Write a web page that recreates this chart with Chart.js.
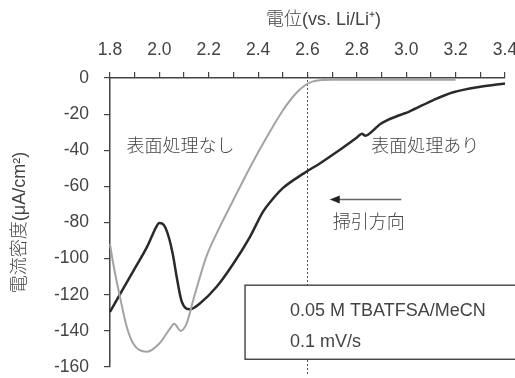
<!DOCTYPE html>
<html lang="ja">
<head>
<meta charset="utf-8">
<title>電流密度 vs 電位</title>
<script src="https://cdn.jsdelivr.net/npm/chart.js@4/dist/chart.umd.min.js"></script>
<style>
  html, body { margin: 0; padding: 0; background: #fff; }
  #wrap { width: 515px; height: 378px; position: relative; }
</style>
</head>
<body>
<div id="wrap"><canvas id="cv"></canvas></div>
<script>
// Potential (V vs. Li/Li+) and current density (µA/cm²) for each electrode
const untreatedPotential = [1.80, 1.813, 1.84, 1.868, 1.894, 1.92, 1.95, 2.00, 2.043, 2.06, 2.086, 2.11, 2.137, 2.19, 2.232, 2.298, 2.367, 2.434, 2.50, 2.55, 2.59, 2.62, 2.65, 2.70, 2.80, 3.00, 3.20];
const untreatedCurrent   = [-92, -102.7, -121, -137.8, -147, -150.7, -151.5, -147, -138.7, -136, -140, -136, -123, -99, -86, -68, -49.5, -33, -18, -9, -4, -2, -1.2, -1, -1, -1, -1];

const treatedPotential = [1.80, 1.85, 1.90, 1.95, 1.97, 1.985, 2.00, 2.012, 2.025, 2.04, 2.055, 2.07, 2.09, 2.124, 2.164, 2.232, 2.30, 2.367, 2.42, 2.45, 2.50, 2.585, 2.65, 2.73, 2.80, 2.82, 2.835, 2.86, 2.895, 2.975, 3.01, 3.11, 3.19, 3.30, 3.40];
const treatedCurrent   = [-129.5, -117.5, -105.5, -93.5, -87.5, -83, -80.3, -80.6, -83, -89, -98, -110, -123.5, -128, -124.8, -115.6, -102.7, -87.9, -74, -68.5, -61, -52.8, -47.3, -39.9, -33, -30.8, -32, -29.8, -25.5, -20.5, -18.7, -12.2, -7.9, -4.8, -3];

const xTicks = { min: 1.8, max: 3.4, step: 0.1 };
const yTicks = { min: -160, max: 0, step: 20 };

const FONT = "'Liberation Sans', 'Noto Sans CJK JP', sans-serif";
const TEXT = '#444';

function toPoints(xs, ys) { return xs.map((x, i) => ({ x, y: ys[i] })); }

// Labels, sweep arrow, reference line and condition box
const overlay = {
  id: 'overlay',
  beforeDatasetsDraw(chart) {
    const { ctx, scales: { x, y } } = chart;
    const px = x.getPixelForValue(2.6);
    ctx.save();
    ctx.strokeStyle = '#555';
    ctx.lineWidth = 1;
    ctx.setLineDash([2, 2]);
    ctx.beginPath();
    ctx.moveTo(px, y.getPixelForValue(0) + 2);
    ctx.lineTo(px, chart.height - 3);
    ctx.stroke();
    ctx.restore();
  },
  afterDatasetsDraw(chart) {
    const { ctx, scales: { x, y } } = chart;
    ctx.save();

    // condition box
    const bl = x.getPixelForValue(2.347), bt = y.getPixelForValue(-114.7), bb = y.getPixelForValue(-155.7);
    ctx.fillStyle = '#fff';
    ctx.fillRect(bl, bt, chart.width - bl + 5, bb - bt);
    ctx.strokeStyle = '#333';
    ctx.lineWidth = 1.3;
    ctx.strokeRect(bl, bt, chart.width - bl + 5, bb - bt);

    ctx.fillStyle = TEXT;
    ctx.textBaseline = 'middle';
    ctx.textAlign = 'left';
    ctx.font = `300 18px ${FONT}`;
    ctx.fillText('0.05 M TBATFSA/MeCN', bl + 45, bt + 26);
    ctx.fillText('0.1 mV/s', bl + 45, bt + 57);

    // curve labels
    ctx.font = `300 18px ${FONT}`;
    ctx.fillText('表面処理なし', x.getPixelForValue(1.867), y.getPixelForValue(-38.2));
    ctx.fillText('表面処理あり', x.getPixelForValue(2.858), y.getPixelForValue(-38));
    ctx.fillText('掃引方向', x.getPixelForValue(2.702), y.getPixelForValue(-80.3));

    // sweep direction arrow
    const ay = y.getPixelForValue(-67.2);
    const ax0 = x.getPixelForValue(2.98), ax1 = x.getPixelForValue(2.69);
    ctx.strokeStyle = '#666';
    ctx.lineWidth = 1.5;
    ctx.beginPath();
    ctx.moveTo(ax0, ay);
    ctx.lineTo(ax1 + 8, ay);
    ctx.stroke();
    ctx.fillStyle = '#222';
    ctx.beginPath();
    ctx.moveTo(ax1, ay);
    ctx.lineTo(ax1 + 10, ay - 4);
    ctx.lineTo(ax1 + 10, ay + 4);
    ctx.closePath();
    ctx.fill();

    // potential axis title
    ctx.fillStyle = TEXT;
    ctx.textAlign = 'center';
    ctx.font = `300 18px ${FONT}`;
    ctx.fillText('電位(vs. Li/Li⁺)', (x.left + x.right) / 2 + 16, 20);
    ctx.restore();
  }
};

new Chart(document.getElementById('cv'), {
  type: 'scatter',
  data: {
    datasets: [
      {
        label: '表面処理なし',
        data: toPoints(untreatedPotential, untreatedCurrent),
        showLine: true,
        borderColor: '#a3a3a3',
        borderWidth: 2,
        pointRadius: 0,
        cubicInterpolationMode: 'monotone',
        clip: false
      },
      {
        label: '表面処理あり',
        data: toPoints(treatedPotential, treatedCurrent),
        showLine: true,
        borderColor: '#2a2a2a',
        borderWidth: 2.5,
        pointRadius: 0,
        cubicInterpolationMode: 'monotone',
        clip: false
      }
    ]
  },
  options: {
    responsive: true,
    maintainAspectRatio: false,
    animation: false,
    layout: { padding: 0 },
    plugins: { legend: { display: false }, tooltip: { enabled: false } },
    scales: {
      x: {
        type: 'linear',
        position: 'top',
        min: xTicks.min,
        max: xTicks.max,
        afterFit(s) { s.height = 78; s.paddingLeft = 0; s.paddingRight = 10; },
        ticks: {
          stepSize: xTicks.step,
          autoSkip: false,
          maxRotation: 0,
          padding: 11,
          color: TEXT,
          font: { family: FONT, size: 17.5, weight: 300 },
          callback(v) {
            const k = Math.round(v * 10);
            return k % 2 === 0 ? (k / 10).toFixed(1) : '';
          }
        },
        grid: { drawOnChartArea: false, drawTicks: true, tickLength: 6, color: '#444', lineWidth: 1.2 },
        border: { display: true, color: '#444', width: 1.5 }
      },
      y: {
        type: 'linear',
        position: 'left',
        min: yTicks.min,
        max: yTicks.max,
        afterFit(s) { s.width = 110; s.paddingTop = 0; s.paddingBottom = 11; },
        ticks: {
          stepSize: yTicks.step,
          padding: 15,
          color: TEXT,
          font: { family: FONT, size: 17.5, weight: 300 }
        },
        grid: { drawOnChartArea: false, drawTicks: true, tickLength: 6, color: '#444', lineWidth: 1.2 },
        border: { display: true, color: '#444', width: 1.5 },
        title: {
          display: true,
          text: '電流密度(μA/cm²)',
          color: TEXT,
          font: { family: FONT, size: 18, weight: 300 },
          padding: { top: 9, bottom: 0 }
        }
      }
    }
  },
  plugins: [overlay]
});
</script>
</body>
</html>
